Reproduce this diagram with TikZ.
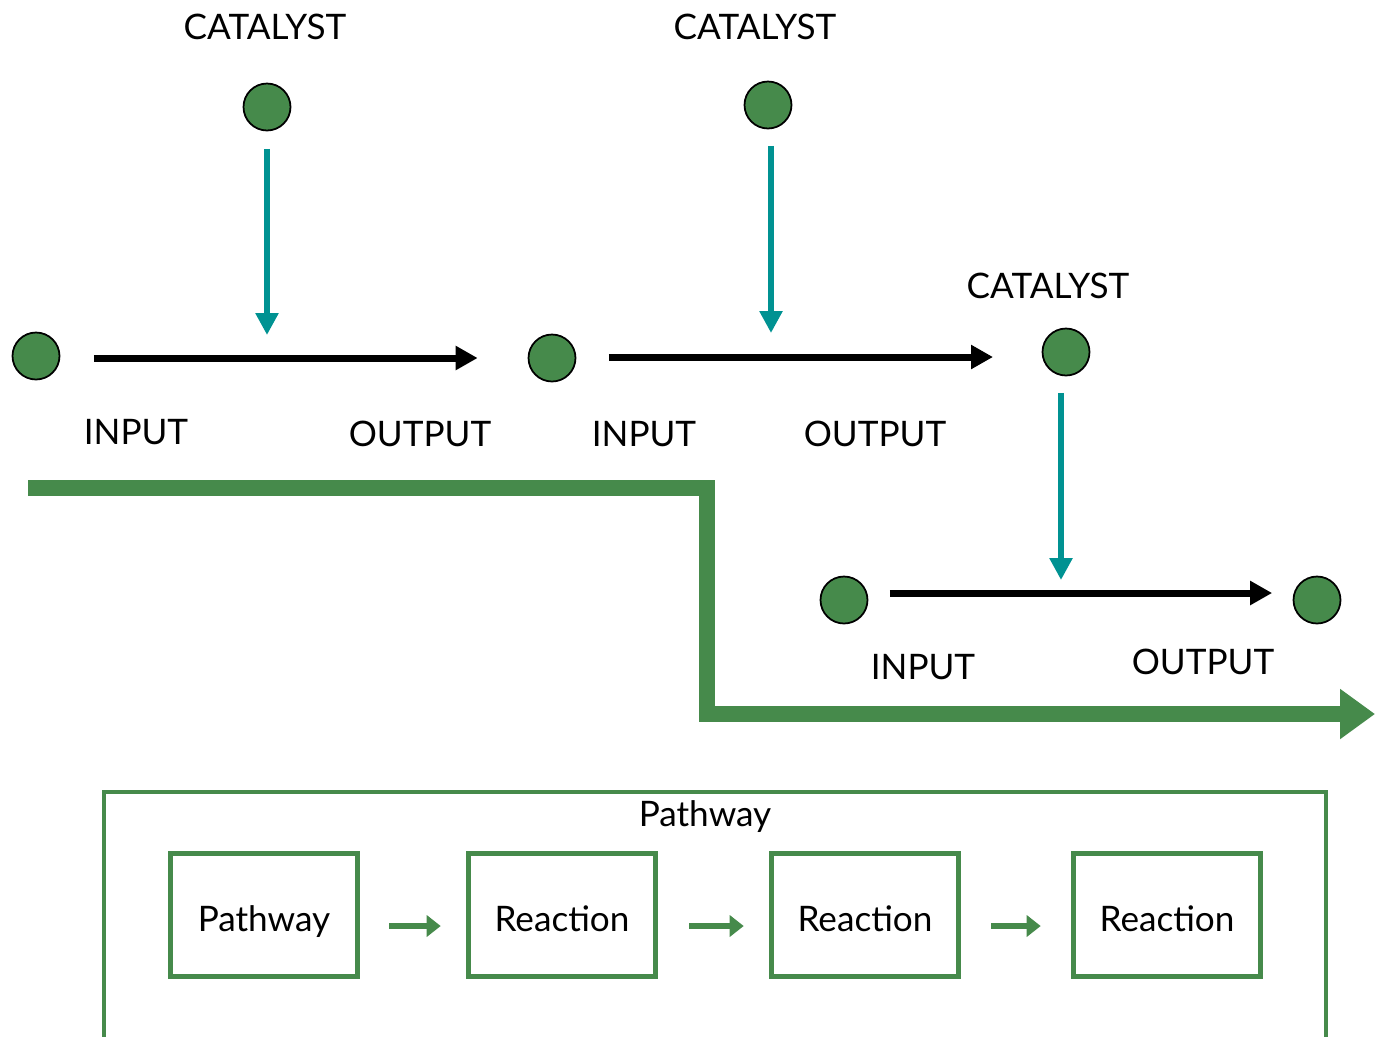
\documentclass[tikz,border=0pt]{standalone}
\usepackage{fontspec}
\setmainfont{Lato}
\usepackage{xcolor}
\usepackage{tikz}
\usetikzlibrary{arrows.meta,positioning}

\definecolor{leaf}{RGB}{70,138,75}
\definecolor{feedcol}{RGB}{0,146,146}

\begin{document}
\begin{tikzpicture}[
        x=0.02cm, y=-0.02cm,
        dot/.style={circle, draw=black, line width=1pt, fill=leaf, minimum size=0.94cm, inner sep=0pt},
        lbl/.style={font=\fontsize{20}{24}\selectfont, inner sep=0pt},
        react/.style={-{Triangle[length=0.44cm, width=0.46cm]}, line width=4pt, black},
        feed/.style={-{Triangle[length=0.44cm, width=0.44cm]}, line width=3.4pt, feedcol},
        stage/.style={rectangle, draw=leaf, line width=3.2pt, minimum width=3.74cm, minimum height=2.46cm,
            text height=22pt, text depth=3pt, font=\fontsize{20}{24}\selectfont},
        next/.style={-{Triangle[length=0.28cm, width=0.42cm]}, line width=3.4pt, leaf}
    ]
        \useasboundingbox (0,0) rectangle (1375,1036);

        % Reaction 1
        \node[dot] (in1) at (36,356) {};
        \node[dot] (c1) at (267,107) {};
        \node[lbl] (cl1) at (265,27) {CATALYST};
        \node[lbl] (il1) at (136,432) {INPUT};
        \node[lbl] (ol1) at (420,434) {OUTPUT};

        % Reaction 2
        \node[dot] (in2) at (552,358) {};
        \node[dot] (c2) at (768,105) {};
        \coordinate (o2) at (993,357);
        \node[lbl] (cl2) at (755,27) {CATALYST};
        \node[lbl] (il2) at (644,434) {INPUT};
        \node[lbl] (ol2) at (875,434) {OUTPUT};

        % Reaction 3
        \node[dot] (in3) at (844,600) {};
        \node[dot] (out3) at (1317,600) {};
        \node[dot] (c3) at (1066,352) {};
        \node[lbl] (cl3) at (1048,286) {CATALYST};
        \node[lbl] (il3) at (923,667) {INPUT};
        \node[lbl] (ol3) at (1203,662) {OUTPUT};

        % Input -> output arrows
        \draw[react, shorten <=1.16cm, shorten >=1cm] (in1 |- in2) -- (in2);
        \draw[react, shorten <=1.14cm] (o2 -| in2) -- (o2);
        \draw[react, shorten <=0.43cm, shorten >=0.41cm] ([yshift=0.14cm]in3.east) -- ([yshift=0.14cm]out3.west);

        % Catalysts acting on each reaction
        \draw[feed, shorten <=0.35cm, shorten >=0.42cm] (c1) -- (c1 |- in1);
        \draw[feed, shorten <=0.33cm, shorten >=0.5cm] ([xshift=0.06cm]c2.south) -- ([xshift=0.06cm]c2 |- in2);
        \draw[feed, shorten <=0.33cm, shorten >=0.4cm] ([xshift=-0.1cm]c3.south) -- ([xshift=-0.1cm]c3 |- in3);

        % Overall pathway flow
        \coordinate (pstart) at (28,488);
        \coordinate (pend) at (1375,714);
        \draw[-{Triangle[length=0.7cm, width=0.96cm]}, line width=9pt, leaf, line join=miter]
            (pstart) -- (707,488) |- (pend);

        % Pathway made of reactions
        \draw[leaf, line width=2.6pt] (104,792) rectangle (1326,1060);
        \node[lbl] (ptitle) at (705,817) {Pathway};
        \node[stage] (s1) at (264,915) {Pathway};
        \node[stage] (s2) at (562,915) {Reaction};
        \node[stage] (s3) at (865,915) {Reaction};
        \node[stage] (s4) at (1167,915) {Reaction};
        \draw[next, shorten <=0.58cm, shorten >=0.5cm] ([yshift=-0.22cm]s1.east) -- ([yshift=-0.22cm]s2.west);
        \draw[next, shorten <=0.62cm, shorten >=0.5cm] ([yshift=-0.22cm]s2.east) -- ([yshift=-0.22cm]s3.west);
        \draw[next, shorten <=0.6cm, shorten >=0.6cm] ([yshift=-0.22cm]s3.east) -- ([yshift=-0.22cm]s4.west);
    \end{tikzpicture}
\end{document}
